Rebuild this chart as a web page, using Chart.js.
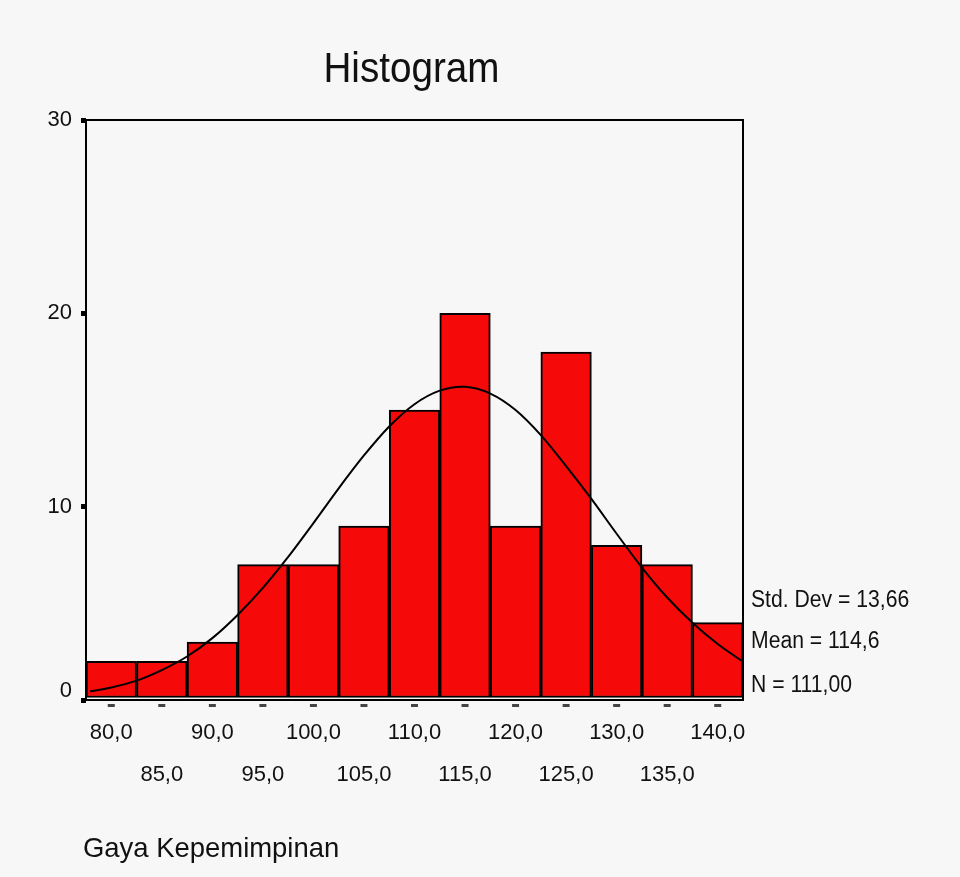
<!DOCTYPE html>
<html>
<head>
<meta charset="utf-8">
<title>Histogram</title>
<script src="https://cdn.jsdelivr.net/npm/chart.js@4.4.1/dist/chart.umd.min.js"></script>
<style>
  html, body { margin: 0; padding: 0; background: #f7f7f7; }
  canvas { display: block; }
</style>
</head>
<body>
<canvas id="histo" width="960" height="877"></canvas>
<script>
// bin centres and counts
let binMid = [80, 85, 90, 95, 100, 105, 110, 115, 120, 125, 130, 135, 140];
let binCount = [2, 2, 3, 7, 7, 9, 15, 20, 9, 18, 8, 7, 4];
// normal curve
let curveX = [77.9, 80, 82.5, 85, 87.5, 90, 92.5, 95, 97.5, 100, 102.5, 105, 107.5, 110, 112.5, 115,
              117.5, 120, 122.5, 125, 127.5, 130, 132.5, 135, 137.5, 140, 142.3];
let curveY = [0.45, 0.65, 1.0, 1.55, 2.25, 3.2, 4.4, 5.8, 7.4, 9.15, 10.95, 12.65, 14.15, 15.3, 16.0, 16.2,
              15.85, 15.0, 13.7, 12.1, 10.4, 8.6, 6.85, 5.3, 4.0, 2.9, 2.05];
let yTicks = [0, 10, 20, 30];
let statLines = ['Std. Dev = 13,66', 'Mean = 114,6', 'N = 111,00'];

function fmt(v) { return v.toFixed(1).replace('.', ','); }

// Rahmen, Titel, Texte
const decor = {
    id: 'decor',
    beforeDatasetsDraw(chart) {
        const a = chart.chartArea;
        const c = chart.ctx;
        c.save();
        c.strokeStyle = '#000';
        c.lineWidth = 2;
        c.strokeRect(a.left, a.top, a.right - a.left, a.bottom - a.top);
        c.restore();
    },
    afterDraw(chart) {
        const a = chart.chartArea;
        const c = chart.ctx;
        const xs = chart.scales.x;
        c.save();
        // kleine Striche unter der x-Achse
        c.fillStyle = '#444';
        binMid.forEach(function(v) {
            let px = xs.getPixelForValue(v);
            c.fillRect(px - 3.5, a.bottom + 4, 7, 3);
        });
        c.fillStyle = '#111';
        c.textBaseline = 'alphabetic';
        // Titel
        c.save();
        c.font = '42px "Liberation Sans", Arial, sans-serif';
        c.translate((a.left + a.right) / 2 - 3, 82);
        c.scale(0.92, 1);
        c.textAlign = 'center';
        c.fillText('Histogram', 0, 0);
        c.restore();
        // Statistik
        c.save();
        c.font = '23px "Liberation Sans", Arial, sans-serif';
        c.textAlign = 'left';
        let ys = [607, 648, 692];
        statLines.forEach(function(t, i) {
            c.save();
            c.translate(a.right + 8, ys[i]);
            c.scale(0.92, 1);
            c.fillText(t, 0, 0);
            c.restore();
        });
        c.restore();
        // x-Achsentitel
        c.save();
        c.font = '28px "Liberation Sans", Arial, sans-serif';
        c.translate(a.left - 3, 857);
        c.scale(0.98, 1);
        c.textAlign = 'left';
        c.fillText('Gaya Kepemimpinan', 0, 0);
        c.restore();
        c.restore();
    }
};

new Chart(document.getElementById('histo'), {
    type: 'bar',
    data: {
        datasets: [
            {
                type: 'line',
                data: curveX.map((x, i) => ({ x: x, y: curveY[i] })),
                borderColor: '#000',
                borderWidth: 2,
                pointRadius: 0,
                tension: 0.3,
                fill: false,
                order: 0
            },
            {
                type: 'bar',
                data: binMid.map((x, i) => ({ x: x, y: binCount[i] })),
                backgroundColor: '#f50909',
                borderColor: '#000',
                borderWidth: 2,
                borderSkipped: false,
                barPercentage: 1,
                categoryPercentage: 1,
                grouped: false,
                order: 1
            }
        ]
    },
    options: {
        responsive: false,
        animation: false,
        layout: { padding: { top: 120, right: 217, left: 0, bottom: 0 } },
        plugins: {
            legend: { display: false },
            title: { display: false },
            tooltip: { enabled: false }
        },
        scales: {
            x: {
                type: 'linear',
                offset: false,
                min: 77.5,
                max: 142.5,
                afterBuildTicks: function(scale) {
                    scale.ticks = binMid.map(v => ({ value: v }));
                },
                afterFit: function(scale) { scale.height = 177; },
                border: { display: false },
                grid: { display: false },
                ticks: {
                    autoSkip: false,
                    maxRotation: 0,
                    padding: 3,
                    color: '#111',
                    font: { family: '"Liberation Sans", Arial, sans-serif', size: 22, lineHeight: 1.95 },
                    callback: function(value) {
                        let i = binMid.indexOf(value);
                        return i % 2 === 0 ? [fmt(value), ''] : ['', fmt(value)];
                    }
                }
            },
            y: {
                min: 0,
                max: 30,
                afterBuildTicks: function(scale) {
                    scale.ticks = yTicks.map(v => ({ value: v }));
                },
                afterFit: function(scale) { scale.width = 86; },
                border: { display: false },
                grid: {
                    drawOnChartArea: false,
                    drawTicks: true,
                    tickLength: 5,
                    lineWidth: 5,
                    color: '#000'
                },
                ticks: {
                    padding: 9,
                    color: '#111',
                    font: { family: '"Liberation Sans", Arial, sans-serif', size: 22, lineHeight: 0.82 },
                    callback: function(value) {
                        return value === 0 ? ['0', ''] : String(value);
                    }
                }
            }
        }
    },
    plugins: [decor]
});
</script>
</body>
</html>
